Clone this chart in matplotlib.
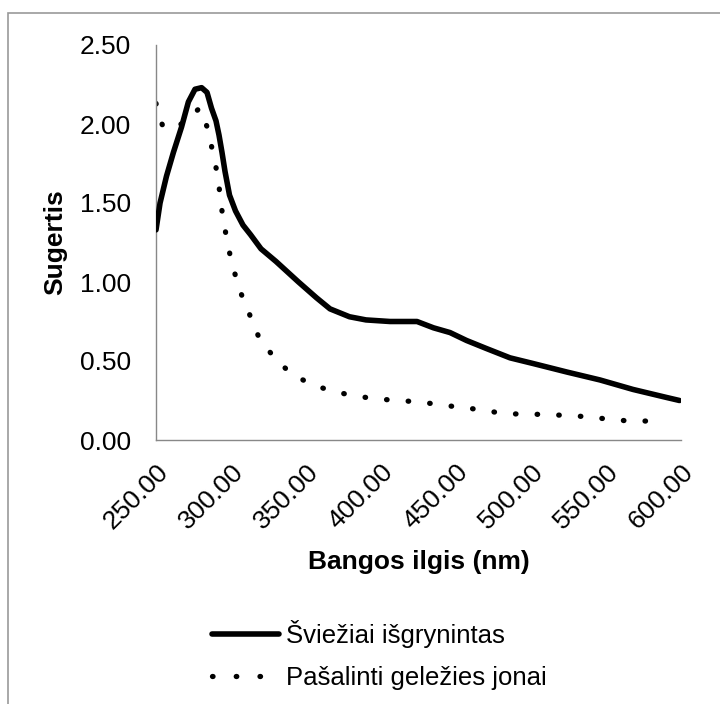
import matplotlib
matplotlib.use("Agg")
import matplotlib.pyplot as plt
from matplotlib.patches import Rectangle
from matplotlib.lines import Line2D

plt.rcParams['font.family'] = ['Liberation Sans', 'DejaVu Sans']

# Data
fresh_wl = [250, 252.7, 257, 261.6, 267, 271.6, 276, 280.4, 284, 287, 290,
            292, 294, 296, 299, 303, 308, 313, 320, 330, 345, 357, 366, 379, 390,
            406, 424, 435, 446, 457, 470, 486, 501, 524, 546, 568, 590, 599]
fresh_abs = [1.33, 1.50, 1.67, 1.82, 1.98, 2.14, 2.22, 2.23, 2.20, 2.10, 2.02,
             1.93, 1.82, 1.70, 1.55, 1.45, 1.36, 1.30, 1.21, 1.13, 1.00, 0.90, 0.83, 0.78, 0.76,
             0.75, 0.75, 0.71, 0.68, 0.63, 0.58, 0.52, 0.485, 0.43, 0.38, 0.32, 0.27, 0.25]

iron_wl = [250, 252, 254.4, 262, 270, 279, 285, 288, 291.5, 293, 295.5, 298.4,
           302, 307, 313, 319, 329, 340, 353, 367, 382, 397, 411.5, 427, 441,
           456, 470, 484, 497, 511.5, 526, 540, 553, 566, 578, 590]
iron_abs = [2.13, 2.05, 1.99, 1.97, 2.02, 2.10, 1.96, 1.81, 1.66, 1.51, 1.36, 1.21,
            1.07, 0.92, 0.78, 0.64, 0.52, 0.42, 0.355, 0.31, 0.28, 0.26, 0.25, 0.24, 0.22,
            0.205, 0.185, 0.165, 0.165, 0.16, 0.155, 0.145, 0.13, 0.12, 0.12, 0.12]

x_ticks = [250, 300, 350, 400, 450, 500, 550, 600]
y_ticks = [0.0, 0.5, 1.0, 1.5, 2.0, 2.5]
series_names = ["Šviežiai išgrynintas", "Pašalinti geležies jonai"]

fig = plt.figure(figsize=(7.2, 7.04), dpi=100)
W, H = 720, 704
ax = fig.add_axes([156 / W, 1 - 440 / H, (681 - 156) / W, (440 - 45) / H])

ax.plot(iron_wl, iron_abs, color='black', linewidth=3.8,
        linestyle=(0, (0.1, 4.0)), dash_capstyle='round', zorder=2)
ax.plot(fresh_wl, fresh_abs, color='black', linewidth=4.0,
        solid_capstyle='round', solid_joinstyle='round', zorder=3)

ax.set_xlim(250, 600)
ax.set_ylim(0, 2.5)
ax.set_xticks(x_ticks)
ax.set_xticklabels([f"{v:.2f}" for v in x_ticks], rotation=45, ha='right',
                   va='top', rotation_mode='anchor', fontsize=19)
ax.set_yticks(y_ticks)
ax.set_yticklabels([f"{v:.2f}" for v in y_ticks], fontsize=19)
ax.tick_params(axis='both', length=0)
ax.tick_params(axis='y', pad=18)
ax.tick_params(axis='x', pad=14)

for s in ['top', 'right']:
    ax.spines[s].set_visible(False)
for s in ['left', 'bottom']:
    ax.spines[s].set_color('#888888')
    ax.spines[s].set_linewidth(1.0)

ax.set_ylabel("Sugertis", fontsize=19, fontweight='bold', labelpad=9)
ax.set_xlabel("Bangos ilgis (nm)", fontsize=19, fontweight='bold', labelpad=12)

h_fresh = Line2D([], [], color='black', linewidth=4.0, solid_capstyle='round')
h_iron = Line2D([], [], color='black', linewidth=3.8,
                linestyle=(0, (0.1, 4.4)), dash_capstyle='round')
leg = fig.legend([h_fresh, h_iron], series_names, loc='center left',
                 bbox_to_anchor=(199 / W, 1 - 655 / H), borderpad=0,
                 frameon=False, fontsize=18.5, handlelength=2.6, handletextpad=0.3,
                 labelspacing=0.7)

fig.patches.append(Rectangle((8 / W, -0.1), 1.2, (1 - 13 / H) + 0.1, transform=fig.transFigure,
                             fill=False, edgecolor='#999999', linewidth=1.2))

fig.savefig("out.png", dpi=100)
